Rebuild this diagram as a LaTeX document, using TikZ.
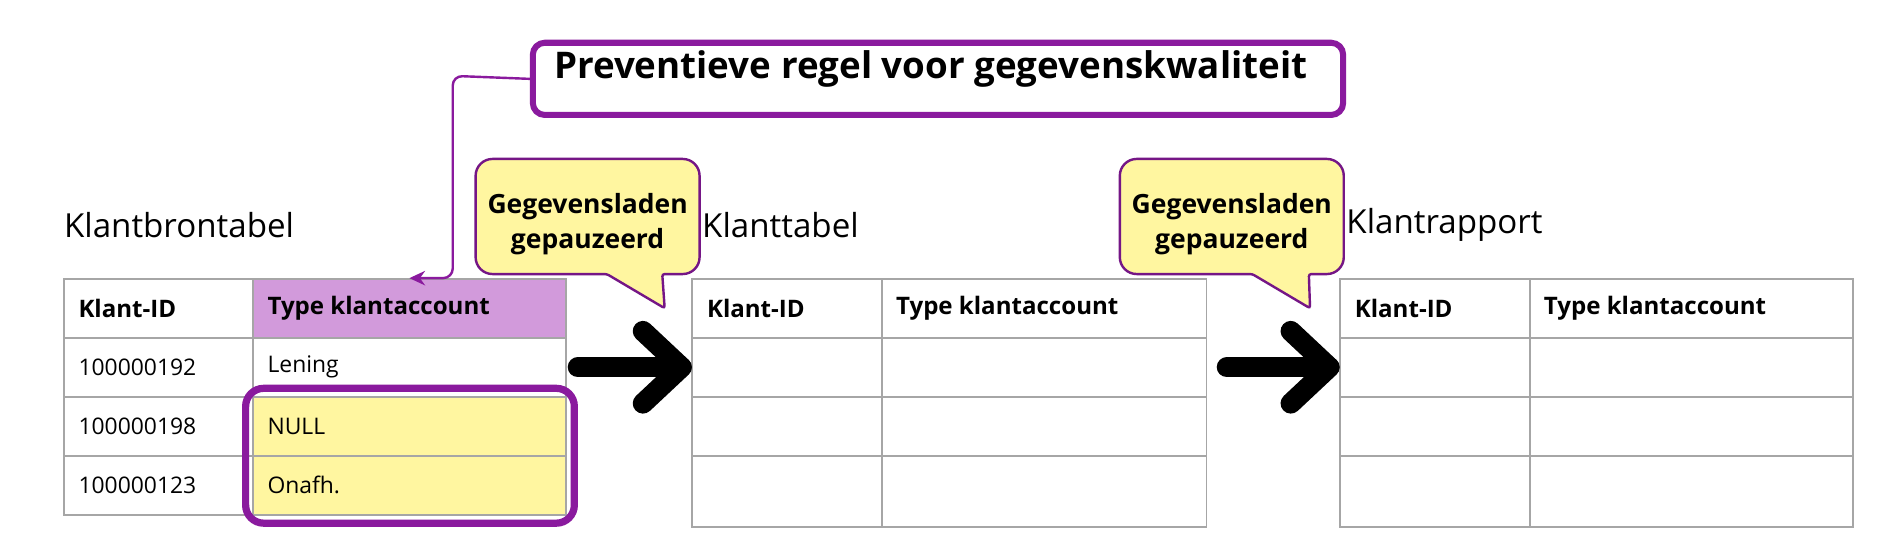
\documentclass[tikz,border=0pt]{standalone}
\usepackage{fontspec}
\setmainfont{Open Sans}
\usetikzlibrary{arrows.meta}
\definecolor{pdark}{RGB}{138,26,158}
\definecolor{lav}{RGB}{210,154,219}
\definecolor{yel}{RGB}{255,246,160}
\definecolor{gridg}{RGB}{166,166,166}
\tikzset{
  grid/.style={draw=gridg, line width=1.6pt},
  hdr/.style={anchor=west, font=\fontsize{20}{23}\selectfont\bfseries, inner sep=0pt},
  cell/.style={anchor=west, font=\fontsize{19}{22}\selectfont, inner sep=0pt},
  lbl/.style={anchor=west, font=\fontsize{27.5}{31}\selectfont, inner sep=0pt},
  callout/.style={draw=pdark!85!black, line width=2pt, fill=yel},
  calltext/.style={align=center, font=\fontsize{22}{29}\selectfont\bfseries, inner sep=0pt},
  bigarrow/.style={line width=17pt, line cap=round, line join=round, black},
  ruleline/.style={draw=pdark, line width=2pt, -{Stealth[length=13pt,width=12pt]}},
}
\begin{document}
\begin{tikzpicture}[x=1pt,y=-1pt]
\path[use as bounding box, fill=white] (0,0) rectangle (1568,465);

% ---------- Table 1 ----------
\fill[lav] (210,232) rectangle (470,281);
\fill[yel] (210,329.5) rectangle (470,427.5);
\draw[grid] (53,232) rectangle (470,427.5);
\draw[grid] (210,232) -- (210,427.5);
\foreach \y in {281,329.5,378.5} \draw[grid] (53,\y) -- (470,\y);
\node[hdr] (t1h1) at (65,256) {Klant-ID};
\node[hdr] (t1h2) at (222,256) {Type klantaccount};
\node[cell] (t1a1) at (65,305) {100000192};
\node[cell] (t1a2) at (222,305) {Lening};
\node[cell] (t1b1) at (65,354) {100000198};
\node[cell] (t1b2) at (222,354) {NULL};
\node[cell] (t1c1) at (65,403) {100000123};
\node[cell] (t1c2) at (222,403) {Onafh.};
\draw[pdark, line width=6pt, rounded corners=15pt] (204,322.5) rectangle (477,434.5);
\node[lbl] (l1) at (53,187) {Klantbrontabel};

% ---------- Table 2 ----------
\draw[grid] (575,232) rectangle (1002,437.5);
\draw[grid] (732.5,232) -- (732.5,437.5);
\foreach \y in {281,329.5,378.5} \draw[grid] (575,\y) -- (1002,\y);
\node[hdr] (t2h1) at (587,256) {Klant-ID};
\node[hdr] (t2h2) at (744,256) {Type klantaccount};
\node[lbl] (l2) at (583,187) {Klanttabel};

% ---------- Table 3 ----------
\draw[grid] (1113,232) rectangle (1539,437.5);
\draw[grid] (1270.5,232) -- (1270.5,437.5);
\foreach \y in {281,329.5,378.5} \draw[grid] (1113,\y) -- (1539,\y);
\node[hdr] (t3h1) at (1125,256) {Klant-ID};
\node[hdr] (t3h2) at (1282,256) {Type klantaccount};
\node[lbl] (l3) at (1118,187) {Klantrapport};

% ---------- Big arrows ----------
\coordinate (a1s) at (480,305);
\coordinate (a1t) at (566,305);
\draw[bigarrow] (a1s) -- (a1t);
\draw[bigarrow] ([shift={(-32,-30)}]a1t) -- (a1t) -- ([shift={(-32,30)}]a1t);
\coordinate (a2s) at (1019,305);
\coordinate (a2t) at (1104,305);
\draw[bigarrow] (a2s) -- (a2t);
\draw[bigarrow] ([shift={(-32,-30)}]a2t) -- (a2t) -- ([shift={(-32,30)}]a2t);

% ---------- Callouts ----------
\draw[callout] (488,132) [rounded corners=14pt] -- (581,132) -- (581,227.6)
  [rounded corners=2pt] -- (550,227.6) -- (552,256) -- (504,227.6)
  [rounded corners=14pt] -- (395,227.6) -- (395,132) -- cycle;
\node[calltext] (c1) at (488,186) {Gegevensladen\\gepauzeerd};
\draw[callout] (1023,132) [rounded corners=14pt] -- (1116,132) -- (1116,227.6)
  [rounded corners=2pt] -- (1087,227.6) -- (1088,256) -- (1040,227.6)
  [rounded corners=14pt] -- (930,227.6) -- (930,132) -- cycle;
\node[calltext] (c2) at (1023,186) {Gegevensladen\\gepauzeerd};

% ---------- Rule box ----------
\node[draw=pdark, line width=5pt, rounded corners=10pt, minimum width=673pt,
      minimum height=60pt, anchor=north west, inner sep=0pt] (rule) at (440,33) {};
\node[anchor=west, inner sep=0pt, font=\fontsize{30.5}{34}\selectfont\bfseries] (ruletext) at (460,57) {Preventieve regel voor gegevenskwaliteit};
\coordinate (ruletip) at (340,231);
\draw[ruleline, rounded corners=8pt] (rule.west) -- (376,63) -- (376,231) -- (ruletip);
\end{tikzpicture}
\end{document}
